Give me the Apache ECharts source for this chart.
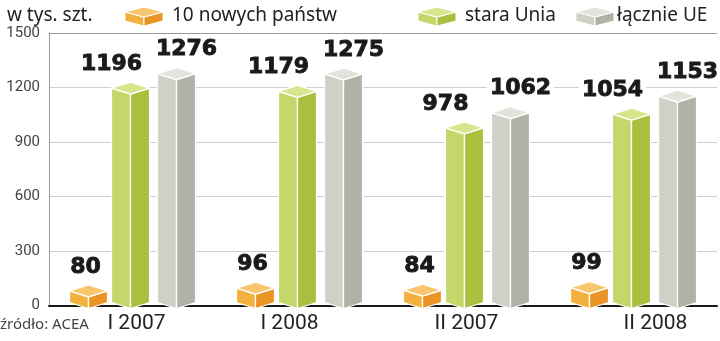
<!DOCTYPE html>
<html>
<head>
<meta charset="utf-8">
<script src="https://cdn.jsdelivr.net/npm/echarts@6/dist/echarts.min.js"></script>
<style>html,body{margin:0;padding:0;background:#fff;}#c{width:720px;height:341px;}</style>
</head>
<body>
<div id="c"></div>
<script>
const categories = ['I 2007', 'I 2008', 'II 2007', 'II 2008'];
const newStates = [80, 96, 84, 99];
const oldUnion = [1196, 1179, 978, 1054];
const totalEU = [1276, 1275, 1062, 1153];
const seriesNames = ['10 nowych państw', 'stara Unia', 'łącznie UE'];
const yMin = 0, yMax = 1500, yStep = 300;

const palettes = [
  {top: '#F8C66C', left: '#F3B03F', right: '#E99424'},
  {top: '#D9E58C', left: '#C4D76A', right: '#AABF3D'},
  {top: '#E3E3DB', left: '#D0D1C6', right: '#B0B2A6'}
];
const layouts = [
  {off: -0.2635, dx: -3},
  {off: -0.012, dx: -19},
  {off: 0.2635, dx: 10}
];

function boxRenderer(k) {
  const pal = palettes[k], lay = layouts[k];
  return function (params, api) {
    const i = api.value(0), v = api.value(1);
    const p = api.coord([i, v]);
    const b = api.coord([i, 0]);
    const band = api.size([1, 0])[0];
    const cx = p[0] + lay.off * band;
    const w = 0.114 * band, d = 6;
    const yt = p[1], yb = b[1] - 3;
    const st = {stroke: '#ffffff', lineWidth: 1.3, lineJoin: 'round'};
    return {
      type: 'group',
      children: [
        {type: 'polygon', shape: {points: [[cx - w, yt], [cx, yt + d], [cx, yb + d], [cx - w, yb]]}, style: Object.assign({fill: pal.left}, st)},
        {type: 'polygon', shape: {points: [[cx, yt + d], [cx + w, yt], [cx + w, yb], [cx, yb + d]]}, style: Object.assign({fill: pal.right}, st)},
        {type: 'polygon', shape: {points: [[cx - w, yt], [cx, yt - d], [cx + w, yt], [cx, yt + d]]}, style: Object.assign({fill: pal.top}, st)},
        {type: 'text', x: cx + lay.dx, y: yt - d - 7, z2: 10,
          style: {text: String(v), font: 'bold 22px "DejaVu Sans"', fill: '#1a1a1a', stroke: '#1a1a1a', lineWidth: 0.9,
            align: 'center', verticalAlign: 'bottom', backgroundColor: '#ffffff', padding: [0, 3, 0, 3]}}
      ]
    };
  };
}

function legendIcon(cx, pal) {
  const w = 19, d = 5, yt = 12, yb = 21;
  const st = {stroke: '#ffffff', lineWidth: 1};
  return [
    {type: 'polygon', shape: {points: [[cx - w, yt], [cx, yt + d], [cx, yb + d], [cx - w, yb]]}, style: Object.assign({fill: pal.left}, st)},
    {type: 'polygon', shape: {points: [[cx, yt + d], [cx + w, yt], [cx + w, yb], [cx, yb + d]]}, style: Object.assign({fill: pal.right}, st)},
    {type: 'polygon', shape: {points: [[cx - w, yt], [cx, yt - d], [cx + w, yt], [cx, yt + d]]}, style: Object.assign({fill: pal.top}, st)}
  ];
}

const legendFont = '19px "Noto Sans"';
function legendText(x, txt) {
  return {type: 'text', x: x, y: 16, style: {text: txt, font: legendFont, fill: '#222', verticalAlign: 'middle'}};
}
const graphics = [
  legendText(7, 'w tys. szt.'),
  ...legendIcon(144, palettes[0]),
  legendText(172, seriesNames[0]),
  ...legendIcon(437, palettes[1]),
  legendText(465, seriesNames[1]),
  ...legendIcon(595, palettes[2]),
  legendText(617, seriesNames[2]),
  {type: 'text', x: 0, y: 325, style: {text: 'źródło: ACEA', font: '15px "Noto Sans"', fill: '#444', verticalAlign: 'middle'}}
];

const xShift = [8, -20, 0, 44];
const xData = categories.map((c, i) => ({
  value: c,
  textStyle: {padding: xShift[i] >= 0 ? [0, 0, 0, xShift[i]] : [0, -xShift[i], 0, 0]}
}));

const option = {
  animation: false,
  backgroundColor: '#ffffff',
  grid: {left: 49, right: 3, top: 33, bottom: 35.5, containLabel: false},
  xAxis: {
    type: 'category',
    data: xData,
    axisLine: {lineStyle: {color: '#1a1a1a', width: 2}},
    axisTick: {show: false},
    axisLabel: {
      margin: 8,
      fontSize: 21,
      fontFamily: 'Roboto',
      color: '#222'
    }
  },
  yAxis: {
    type: 'value',
    min: yMin, max: yMax, interval: yStep,
    axisLine: {show: true, lineStyle: {color: '#999', width: 1}},
    axisTick: {show: false},
    axisLabel: {color: '#444', fontSize: 15, fontFamily: 'Roboto', margin: 9, padding: [8, 0, 0, 0],
      formatter: (v) => String(v)},
    splitLine: {lineStyle: {color: ['#cfcfcf', '#cfcfcf', '#cfcfcf', '#cfcfcf', '#cfcfcf', '#999'], width: 1}}
  },
  graphic: graphics,
  series: [newStates, oldUnion, totalEU].map((arr, k) => ({
    type: 'custom',
    name: seriesNames[k],
    renderItem: boxRenderer(k),
    data: arr.map((v, i) => [i, v]),
    encode: {x: 0, y: 1},
    z: 3
  }))
};

const chart = echarts.init(document.getElementById('c'), null, {renderer: 'canvas'});
chart.setOption(option);
</script>
</body>
</html>
